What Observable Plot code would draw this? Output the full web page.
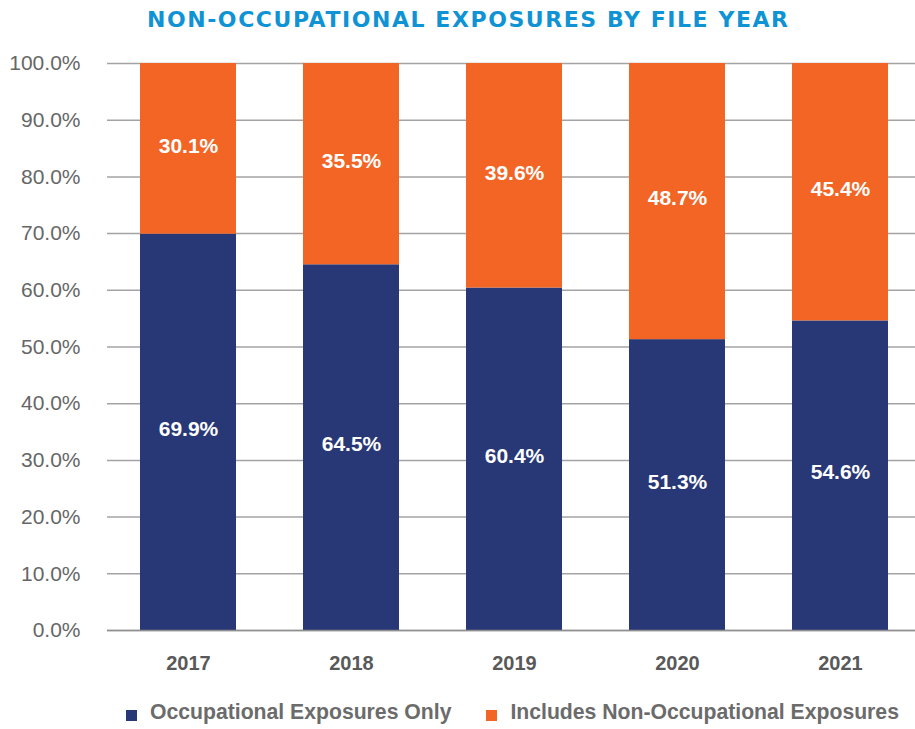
<!DOCTYPE html>
<html>
<head>
<meta charset="utf-8">
<script src="https://cdn.jsdelivr.net/npm/d3@7"></script>
<script src="https://cdn.jsdelivr.net/npm/@observablehq/plot@0.6"></script>
<style>
  html, body { margin: 0; padding: 0; background: #fff; overflow: hidden; }
  #wrap { width: 915px; height: 729px; overflow: hidden; position: relative; font-family: "Liberation Sans", Arial, sans-serif; }
  #title { position: absolute; left: 147px; top: 0; height: 40px; line-height: 39px; color: #0f93d4; font-family: "DejaVu Sans", sans-serif; font-weight: 700; font-size: 22px; white-space: nowrap; }
  #chart { position: absolute; left: 0; top: 40px; width: 922px; height: 640px; }
  #legend { position: absolute; left: 126px; top: 700px; display: flex; align-items: center; font-weight: bold; font-size: 21.2px; color: #6b6b6b; white-space: nowrap; }
  .item { display: flex; align-items: center; }
  .sw { width: 11px; height: 11px; margin-right: 13px; margin-top: 6px; }
</style>
</head>
<body>
<div id="wrap">
  <div id="title"></div>
  <div id="chart"></div>
  <div id="legend"></div>
</div>
<script>
const titleText = "NON-OCCUPATIONAL EXPOSURES BY FILE YEAR";
const years = ["2017", "2018", "2019", "2020", "2021"];
const occupational = [69.9, 64.5, 60.4, 51.3, 54.6];
const nonOccupational = [30.1, 35.5, 39.6, 48.7, 45.4];
const seriesNames = ["Occupational Exposures Only", "Includes Non-Occupational Exposures"];
const seriesColors = ["#283775", "#f26524"];
const yTicks = [0, 10, 20, 30, 40, 50, 60, 70, 80, 90, 100];

const data = years.flatMap((year, i) => [
  {year, series: seriesNames[0], value: occupational[i]},
  {year, series: seriesNames[1], value: nonOccupational[i]}
]);

// title with fitted letter spacing
const titleEl = document.getElementById("title");
titleEl.textContent = titleText;
{
  const ctx = document.createElement("canvas").getContext("2d");
  ctx.font = "700 22px 'DejaVu Sans'";
  const w = ctx.measureText(titleText).width;
  const target = 641;
  titleEl.style.letterSpacing = ((target - w) / (titleText.length - 1)) + "px";
}

const chart = Plot.plot({
  width: 922,
  height: 640,
  marginLeft: 107,
  marginRight: 0,
  marginTop: 23,
  marginBottom: 50,
  style: {fontFamily: "'Liberation Sans', Arial, sans-serif", background: "#fff"},
  x: {domain: years, paddingInner: 0.411, paddingOuter: 0.2055, label: null},
  y: {domain: [0, 100], label: null},
  color: {domain: seriesNames, range: seriesColors},
  marks: [
    Plot.gridY(yTicks, {stroke: "#a3a3a3", strokeOpacity: 1, strokeWidth: 1.5}),
    Plot.barY(data, {x: "year", y: "value", fill: "series"}),
    Plot.text(data, Plot.stackY({
      x: "year", y: "value",
      text: d => d.value.toFixed(1) + "%",
      fill: "white", fontWeight: "bold", fontSize: 21, dy: -3
    })),
    Plot.ruleY([0], {stroke: "#8f8f8f", strokeWidth: 1.5}),
    Plot.axisY(yTicks, {
      tickSize: 0, tickPadding: 27, fontSize: 21, fill: "#666",
      tickFormat: d => d.toFixed(1) + "%", label: null
    }),
    Plot.axisX({
      tickSize: 0, tickPadding: 25, fontSize: 20, fontWeight: "bold", fill: "#595959", label: null
    })
  ]
});
document.getElementById("chart").appendChild(chart);

const legend = document.getElementById("legend");
seriesNames.forEach((name, i) => {
  const item = document.createElement("div");
  item.className = "item";
  if (i > 0) item.style.marginLeft = "35px";
  const sw = document.createElement("div");
  sw.className = "sw";
  sw.style.background = seriesColors[i];
  const label = document.createElement("span");
  label.textContent = name;
  item.appendChild(sw);
  item.appendChild(label);
  legend.appendChild(item);
});
</script>
</body>
</html>
